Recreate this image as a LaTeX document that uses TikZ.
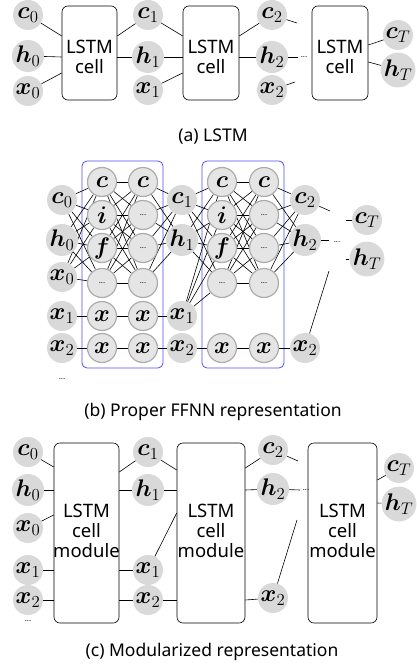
\RequirePackage{fix-cm}
\documentclass[tikz,border=0pt]{standalone}
\usepackage{fontspec}
\setmainfont{Noto Sans}
\usepackage{bm}
\usetikzlibrary{backgrounds,calc}

\newcommand\lblfont{\fontsize{24}{28}\selectfont}

\tikzset{
  inp/.style={circle, fill=gray!30, minimum size=30pt, inner sep=0pt, font=\lblfont},
  gate/.style={circle, fill=gray!20, draw=gray!65, line width=1.2pt, minimum size=29pt, inner sep=0pt, font=\lblfont},
  dotgate/.style={gate, font=\fontsize{8}{8}\selectfont},
  cellbox/.style={draw, rounded corners=6pt, line width=0.6pt},
  layerbox/.style={draw=blue!70, rounded corners=5pt, line width=0.8pt},
  wire/.style={line width=0.6pt},
  boxtext/.style={align=center, inner sep=0pt, font=\fontsize{18.5}{20}\selectfont},
  captext/.style={anchor=base, inner sep=0pt, font=\fontsize{17.5}{20}\selectfont},
  dotsnode/.style={inner sep=0pt, font=\fontsize{8}{8}\selectfont},
}

\begin{document}
\begin{tikzpicture}[x=1pt, y=-1pt]
\useasboundingbox (0,0) rectangle (417,666);

% ---------------- (a) LSTM ----------------
\node[cellbox, minimum width=55pt, minimum height=94pt] (A1) at (89.5,53) {};
\node[cellbox, minimum width=56pt, minimum height=94pt] (A2) at (211,53) {};
\node[cellbox, minimum width=56pt, minimum height=94pt] (A3) at (340,53) {};
\node[boxtext] (A1t) at (89.5,57) {LSTM\\cell};
\node[boxtext] (A2t) at (211,57) {LSTM\\cell};
\node[boxtext] (A3t) at (340,57) {LSTM\\cell};

\node[inp] (ac0) at (28,15) {$\bm{c}_0$};
\node[inp] (ah0) at (28,56) {$\bm{h}_0$};
\node[inp] (ax0) at (28,91) {$\bm{x}_0$};
\node[inp] (ac1) at (148,15) {$\bm{c}_1$};
\node[inp] (ah1) at (148,57) {$\bm{h}_1$};
\node[inp] (ax1) at (148,90) {$\bm{x}_1$};
\node[inp] (ac2) at (272,15) {$\bm{c}_2$};
\node[inp] (ah2) at (272,57) {$\bm{h}_2$};
\node[inp] (ax2) at (272,90) {$\bm{x}_2$};
\node[inp] (acT) at (398,35) {$\bm{c}_T$};
\node[inp] (ahT) at (398,70) {$\bm{h}_T$};
\node[dotsnode] (adots) at (304,57) {...};

\coordinate (A1i1) at (A1.west |- 0,36);
\coordinate (A1i2) at (A1.west |- 0,57);
\coordinate (A1i3) at (A1.west |- 0,73);
\coordinate (A1o1) at (A1.east |- 0,36);
\coordinate (A1o2) at (A1.east |- 0,57);
\coordinate (A2i1) at (A2.west |- 0,36);
\coordinate (A2i2) at (A2.west |- 0,57);
\coordinate (A2i3) at (A2.west |- 0,73);
\coordinate (A2o1) at (A2.east |- 0,36);
\coordinate (A2o2) at (A2.east |- 0,57);
\coordinate (A3o1) at (A3.east |- 0,45);
\coordinate (A3o2) at (A3.east |- 0,62);
\coordinate (ac2end) at (297,23);
\coordinate (ah2end) at (298,57);
\coordinate (ax2end) at (295,82);

\draw[wire] (ac0) -- (A1i1);
\draw[wire] (ah0) -- (A1i2);
\draw[wire] (ax0) -- (A1i3);
\draw[wire] (A1o1) -- (ac1);
\draw[wire] (A1o2) -- (ah1);
\draw[wire] (ac1) -- (A2i1);
\draw[wire] (ah1) -- (A2i2);
\draw[wire] (ax1) -- (A2i3);
\draw[wire] (A2o1) -- (ac2);
\draw[wire] (A2o2) -- (ah2);
\draw[wire] (ac2) -- (ac2end);
\draw[wire] (ah2) -- (ah2end);
\draw[wire] (ax2) -- (ax2end);
\draw[wire] (A3o1) -- (acT);
\draw[wire] (A3o2) -- (ahT);

\node[captext] (capa) at (213,141) {(a) LSTM};

% ---------------- (b) Proper FFNN representation ----------------
\node[inp] (bc0) at (62,200) {$\bm{c}_0$};
\node[inp] (bh0) at (62,240) {$\bm{h}_0$};
\node[inp] (bx0) at (62,277) {$\bm{x}_0$};
\node[inp] (bx1) at (62,316) {$\bm{x}_1$};
\node[inp] (bx2) at (62,348) {$\bm{x}_2$};
\node[dotsnode] (bdots) at (62,379) {...};

\node[inp] (bc1) at (182,200) {$\bm{c}_1$};
\node[inp] (bh1) at (182,240) {$\bm{h}_1$};
\node[inp] (bx1m) at (182,316) {$\bm{x}_1$};
\node[inp] (bx2m) at (182,348) {$\bm{x}_2$};

\node[inp] (bc2) at (305,200) {$\bm{c}_2$};
\node[inp] (bh2) at (305,240) {$\bm{h}_2$};
\node[inp] (bx2o) at (305,348) {$\bm{x}_2$};
\node[dotsnode] (bdots2) at (337,242) {...};

\node[inp] (bcT) at (367,220) {$\bm{c}_T$};
\node[inp] (bhT) at (367,259) {$\bm{h}_T$};

% gate columns of the two unrolled steps
\foreach \k/\xa/\xb in {1/102/143, 2/222/264} {
  \node[gate] (g\k ac) at (\xa,182) {$\bm{c}$};
  \node[gate] (g\k ai) at (\xa,215) {$\bm{i}$};
  \node[gate] (g\k af) at (\xa,248) {$\bm{f}$};
  \node[dotgate] (g\k ad) at (\xa,283) {...};
  \node[gate] (g\k bc) at (\xb,182) {$\bm{c}$};
  \node[dotgate] (g\k bi) at (\xb,215) {...};
  \node[dotgate] (g\k bf) at (\xb,248) {...};
  \node[dotgate] (g\k bd) at (\xb,283) {...};
  \node[gate] (g\k ax2) at (\xa,348) {$\bm{x}$};
  \node[gate] (g\k bx2) at (\xb,348) {$\bm{x}$};
}
\node[gate] (g1ax1) at (102,316) {$\bm{x}$};
\node[gate] (g1bx1) at (143,316) {$\bm{x}$};

\coordinate (bc2end) at (330,211);
\coordinate (bh2end) at (329,240);
\coordinate (bx2end) at (329,271);
\coordinate (bcTend) at (346,220);
\coordinate (bhTend) at (346,259);

\begin{pgfonlayer}{background}
  \node[layerbox, minimum width=81pt, minimum height=207pt] (L1) at (122.5,264.5) {};
  \node[layerbox, minimum width=82pt, minimum height=207pt] (L2) at (243,264.5) {};
  % step 1
  \foreach \s in {bc0,bh0,bx0}
    \foreach \t in {c,i,f,d}
      \draw[wire] (\s) -- (g1a\t);
  \foreach \s in {c,i,f,d}
    \foreach \t in {c,i,f,d}
      \draw[wire] (g1a\s) -- (g1b\t);
  \foreach \s in {c,i,f,d}
    \foreach \t in {bc1,bh1}
      \draw[wire] (g1b\s) -- (\t);
  \draw[wire] (bx1) -- (g1ax1) -- (g1bx1) -- (bx1m);
  \draw[wire] (bx2) -- (g1ax2) -- (g1bx2) -- (bx2m);
  % step 2
  \foreach \s in {bc1,bh1,bx1m}
    \foreach \t in {c,i,f,d}
      \draw[wire] (\s) -- (g2a\t);
  \foreach \s in {c,i,f,d}
    \foreach \t in {c,i,f,d}
      \draw[wire] (g2a\s) -- (g2b\t);
  \foreach \s in {c,i,f,d}
    \foreach \t in {bc2,bh2}
      \draw[wire] (g2b\s) -- (\t);
  \draw[wire] (bx2m) -- (g2ax2) -- (g2bx2) -- (bx2o);
  % towards the last step
  \draw[wire] (bc2) -- (bc2end);
  \draw[wire] (bh2) -- (bh2end);
  \draw[wire] (bx2o) -- (bx2end);
  \draw[wire] (bcTend) -- (bcT);
  \draw[wire] (bhTend) -- (bhT);
\end{pgfonlayer}

\node[captext] (capb) at (213,416) {(b) Proper FFNN representation};

% ---------------- (c) Modularized representation ----------------
\node[cellbox, minimum width=65pt, minimum height=180pt] (C1) at (86.5,533) {};
\node[cellbox, minimum width=68pt, minimum height=180pt] (C2) at (211,533) {};
\node[cellbox, minimum width=69pt, minimum height=180pt] (C3) at (342.5,533) {};
\node[boxtext] (C1t) at (86.5,531) {LSTM\\cell\\module};
\node[boxtext] (C2t) at (211,531) {LSTM\\cell\\module};
\node[boxtext] (C3t) at (342.5,531) {LSTM\\cell\\module};

\node[inp] (cc0) at (28,452) {$\bm{c}_0$};
\node[inp] (ch0) at (28,490) {$\bm{h}_0$};
\node[inp] (cx0) at (28,528) {$\bm{x}_0$};
\node[inp] (cx1) at (28,570) {$\bm{x}_1$};
\node[inp] (cx2) at (28,600) {$\bm{x}_2$};
\node[dotsnode] (cdots) at (28,621) {...};

\node[inp] (cc1) at (148,452) {$\bm{c}_1$};
\node[inp] (ch1) at (148,490) {$\bm{h}_1$};
\node[inp] (cx1m) at (148,570) {$\bm{x}_1$};
\node[inp] (cx2m) at (148,600) {$\bm{x}_2$};

\node[inp] (cc2) at (273,450) {$\bm{c}_2$};
\node[inp] (ch2) at (273,489) {$\bm{h}_2$};
\node[inp] (cx2o) at (273,598) {$\bm{x}_2$};
\node[dotsnode] (cdots2) at (306,490) {...};

\node[inp] (ccT) at (399,468) {$\bm{c}_T$};
\node[inp] (chT) at (399,504) {$\bm{h}_T$};

\coordinate (C1i1) at (C1.west |- 0,467);
\coordinate (C1i2) at (C1.west |- 0,490);
\coordinate (C1i3) at (C1.west |- 0,515);
\coordinate (C1i4) at (C1.west |- 0,570);
\coordinate (C1i5) at (C1.west |- 0,600);
\coordinate (C1o1) at (C1.east |- 0,472);
\coordinate (C1o2) at (C1.east |- 0,490);
\coordinate (C1o4) at (C1.east |- 0,570);
\coordinate (C1o5) at (C1.east |- 0,600);
\coordinate (C2i1) at (C2.west |- 0,470);
\coordinate (C2i2) at (C2.west |- 0,490);
\coordinate (C2i3) at (C2.west |- 0,513);
\coordinate (C2i5) at (C2.west |- 0,600);
\coordinate (C2o1) at (C2.east |- 0,468);
\coordinate (C2o2) at (C2.east |- 0,490);
\coordinate (C2o5) at (C2.east |- 0,600);
\coordinate (C3o1) at (C3.east |- 0,480);
\coordinate (C3o2) at (C3.east |- 0,503);
\coordinate (cc2end) at (298,461);
\coordinate (ch2end) at (300,490);
\coordinate (cx2end) at (297,520);

\draw[wire] (cc0) -- (C1i1);
\draw[wire] (ch0) -- (C1i2);
\draw[wire] (cx0) -- (C1i3);
\draw[wire] (cx1) -- (C1i4);
\draw[wire] (cx2) -- (C1i5);
\draw[wire] (C1o1) -- (cc1);
\draw[wire] (C1o2) -- (ch1);
\draw[wire] (C1o4) -- (cx1m);
\draw[wire] (C1o5) -- (cx2m);
\draw[wire] (cc1) -- (C2i1);
\draw[wire] (ch1) -- (C2i2);
\draw[wire] (cx1m) -- (C2i3);
\draw[wire] (cx2m) -- (C2i5);
\draw[wire] (C2o1) -- (cc2);
\draw[wire] (C2o2) -- (ch2);
\draw[wire] (C2o5) -- (cx2o);
\draw[wire] (cc2) -- (cc2end);
\draw[wire] (ch2) -- (ch2end);
\draw[wire] (cx2o) -- (cx2end);
\draw[wire] (C3o1) -- (ccT);
\draw[wire] (C3o2) -- (chT);

\node[captext] (capc) at (212,656) {(c) Modularized representation};
\end{tikzpicture}
\end{document}
